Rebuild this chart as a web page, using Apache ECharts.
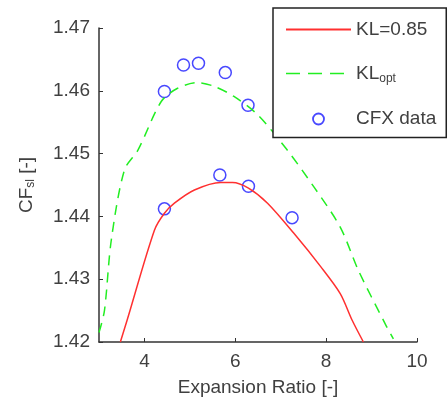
<!DOCTYPE html>
<html><head><meta charset="utf-8">
<script src="https://cdn.jsdelivr.net/npm/echarts@6/dist/echarts.min.js"></script>
<style>html,body{margin:0;padding:0;background:#fff}#c{width:448px;height:403px}</style>
</head><body><div id="c"></div>
<script>
const xTicks = [4, 6, 8, 10];
const yTicks = [1.42, 1.43, 1.44, 1.45, 1.46, 1.47];

const klX = [3.47, 3.62, 4.22, 4.44, 4.66, 5.10, 5.68, 5.94, 6.29, 6.71, 7.29, 7.88, 8.31, 8.57, 8.82];
const klY = [1.4200, 1.4235, 1.4378, 1.4405, 1.4421, 1.4442, 1.4454, 1.4454, 1.4445, 1.4421, 1.4373, 1.4320, 1.4277, 1.4235, 1.4200];

const optX = [3.00, 3.12, 3.27, 3.56, 3.86, 4.37, 4.73, 5.17, 5.54, 5.97, 6.49, 7.14, 7.73, 8.31, 8.71, 9.30, 9.48];
const optY = [1.4215, 1.4250, 1.4362, 1.4474, 1.4506, 1.4583, 1.4604, 1.4613, 1.4607, 1.4591, 1.4562, 1.4506, 1.4447, 1.4383, 1.4314, 1.4229, 1.4205];

const cfxX = [4.44, 4.86, 5.19, 5.78, 6.28, 4.44, 5.66, 6.29, 7.25];
const cfxY = [1.4599, 1.4641, 1.4644, 1.4629, 1.4577, 1.4412, 1.4466, 1.4448, 1.4398];

const zip = (xs, ys) => xs.map((x, i) => [x, ys[i]]);
const font = 'Arial, "Liberation Sans", sans-serif';
const txt = '#404040';
const hideSym = {color: 'rgba(0,0,0,0)', borderWidth: 0, opacity: 0};

const chart = echarts.init(document.getElementById('c'), null, {renderer: 'canvas'});
chart.setOption({
  animation: false,
  backgroundColor: '#fff',
  grid: {left: 99, right: 31, top: 28, bottom: 61, containLabel: false},
  xAxis: {
    type: 'value', min: 3, max: 10,
    name: 'Expansion Ratio [-]', nameLocation: 'middle', nameGap: 36,
    nameTextStyle: {fontFamily: font, fontSize: 19, color: txt},
    axisLine: {show: true, lineStyle: {color: '#333', width: 1.5}},
    axisTick: {show: true, inside: true, length: 4, customValues: xTicks, lineStyle: {color: '#333'}},
    axisLabel: {customValues: xTicks, margin: 10, fontFamily: font, fontSize: 19, color: txt},
    splitLine: {show: false}
  },
  yAxis: {
    type: 'value', min: 1.42, max: 1.47, interval: 0.01,
    name: '{n|CF}{s|sl}{n| [-]}', nameLocation: 'middle', nameGap: 62, nameRotate: 90,
    nameTextStyle: {rich: {
      n: {fontFamily: font, fontSize: 19, color: txt},
      s: {fontFamily: font, fontSize: 12, color: txt, verticalAlign: 'bottom', padding: [8, 0, 0, 0]}
    }},
    axisLine: {show: true, lineStyle: {color: '#333', width: 1.5}},
    axisTick: {show: true, inside: true, length: 4, lineStyle: {color: '#333'}},
    axisLabel: {margin: 9, fontFamily: font, fontSize: 19, color: txt,
      formatter: v => v.toFixed(2)},
    splitLine: {show: false}
  },
  legend: {
    orient: 'vertical', left: 273, top: 8,
    itemWidth: 65, itemHeight: 11, itemGap: 25,
    padding: [12, 10, 9, 12],
    backgroundColor: '#fff', borderColor: '#222', borderWidth: 1.5, borderRadius: 0,
    textStyle: {fontFamily: font, fontSize: 19, color: txt,
      rich: {
        n: {fontFamily: font, fontSize: 19, color: txt},
        s: {fontFamily: font, fontSize: 12, color: txt, verticalAlign: 'bottom', padding: [10, 0, 0, 0]}
      }},
    formatter: name => name === 'KL_opt' ? '{n|KL}{s|opt}' : name,
    data: [
      {name: 'KL=0.85', itemStyle: hideSym},
      {name: 'KL_opt', itemStyle: hideSym, lineStyle: {type: [14, 8], color: '#22ee22', width: 1.5}},
      {name: 'CFX data', icon: 'circle', itemStyle: {color: 'rgba(0,0,0,0)', borderColor: '#1a1aff', borderWidth: 1.8}}
    ]
  },
  series: [
    {name: 'KL=0.85', type: 'line', data: zip(klX, klY), showSymbol: false, symbol: 'none', smooth: 0.3,
      lineStyle: {color: '#ff3030', width: 1.5}, itemStyle: {color: '#ff3030'}},
    {name: 'KL_opt', type: 'line', data: zip(optX, optY), showSymbol: false, symbol: 'none', smooth: 0.3,
      lineStyle: {color: '#22ee22', width: 1.5, type: [10, 7]}, itemStyle: {color: '#22ee22'}},
    {name: 'CFX data', type: 'scatter', data: zip(cfxX, cfxY), symbol: 'circle', symbolSize: 12,
      itemStyle: {color: 'rgba(0,0,0,0)', borderColor: '#1a1aff', borderWidth: 1.5}}
  ]
});
</script></body></html>
